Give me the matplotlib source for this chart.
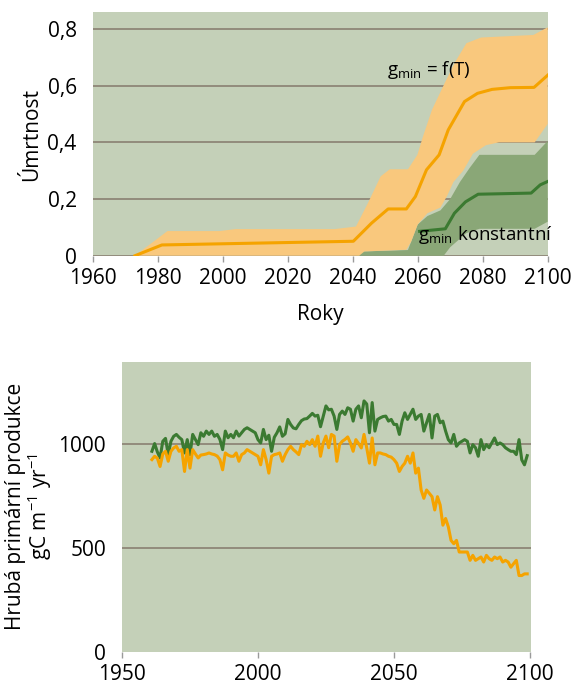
import numpy as np
import matplotlib
matplotlib.use("Agg")
import matplotlib.pyplot as plt
from matplotlib.ticker import FuncFormatter

plt.rcParams['font.family'] = ['Open Sans', 'DejaVu Sans']
plt.rcParams['mathtext.fontset'] = 'custom'
plt.rcParams['mathtext.rm'] = 'Open Sans'
plt.rcParams['mathtext.it'] = 'Open Sans:italic'
plt.rcParams['mathtext.bf'] = 'Open Sans:bold'

# --- horni graf: umrtnost ---
# gmin = f(T): stredni hodnota a pasmo
ft_years = [1973, 1981.3, 2040.2, 2045.8, 2050.9, 2056.5, 2059.3, 2062.7, 2066.6,
            2069.4, 2074.4, 2078.4, 2082.9, 2088.5, 2095.8, 2100]
ft_mean = [0, 0.038, 0.051, 0.115, 0.165, 0.165, 0.209, 0.303, 0.356,
           0.444, 0.544, 0.573, 0.587, 0.593, 0.594, 0.637]
ft_up_years = [1973, 1983, 1999, 2004, 2034.5, 2041, 2044.7, 2048.6, 2051.4, 2057,
               2059.9, 2061.6, 2064.4, 2068.3, 2071.6, 2075, 2079.5, 2095.6, 2100]
ft_up = [0, 0.087, 0.087, 0.094, 0.094, 0.103, 0.186, 0.28, 0.305, 0.305,
         0.356, 0.42, 0.515, 0.609, 0.685, 0.75, 0.77, 0.779, 0.806]
ft_lo_years = [1973, 2042, 2043.6, 2056.5, 2058, 2060, 2063, 2067, 2069, 2071,
               2074, 2077, 2081, 2085, 2096, 2100]
ft_lo = [0, 0, 0.015, 0.021, 0.05, 0.11, 0.15, 0.17, 0.21, 0.26,
         0.30, 0.36, 0.39, 0.40, 0.40, 0.465]

# gmin konstantni
k_years = [2060.6, 2068.5, 2071.3, 2074.7, 2078.6, 2094.9, 2097.7, 2100]
k_mean = [0.086, 0.095, 0.15, 0.19, 0.217, 0.221, 0.25, 0.262]
k_up_years = [2041, 2043, 2057, 2060, 2063, 2067, 2070, 2073, 2076, 2079, 2096, 2100]
k_up = [0, 0.015, 0.02, 0.11, 0.14, 0.16, 0.2, 0.26, 0.31, 0.356, 0.356, 0.405]
k_lo_years = [2041, 2068, 2070, 2075, 2079, 2096, 2100]
k_lo = [0, 0, 0.03, 0.08, 0.095, 0.095, 0.12]

# --- dolni graf: hruba primarni produkce ---
gpp_years = np.arange(1961, 2100)
gpp_konst = [
    963, 1000, 960, 931, 1011, 1025, 947, 1011, 1035, 1044,
    1030, 1019, 955, 1019, 947, 1044, 1019, 995, 1052, 1035,
    1060, 1044, 1060, 1035, 1044, 1020, 971, 1060, 1028, 1044,
    1028, 1060, 1036, 1052, 1068, 1076, 1068, 1060, 1052, 1019,
    1003, 1068, 1019, 1040, 963, 1030, 1052, 1080, 1035, 1047,
    1116, 1092, 1075, 1071, 1092, 1110, 1118, 1120, 1132, 1145,
    1132, 1136, 1081, 1132, 1181, 1162, 1165, 1132, 1068, 1140,
    1156, 1140, 1172, 1165, 1108, 1165, 1181, 1124, 1205, 1190,
    1052, 1197, 1060, 1116, 1124, 1130, 1132, 1108, 1116, 1092,
    1092, 1044, 1108, 1148, 1116, 1140, 1165, 1116, 1132, 1140,
    1060, 1100, 1140, 1027, 1132, 1140, 1100, 1108, 1060, 1019,
    1003, 1044, 987, 1003, 1011, 1019, 1011, 955, 995, 980,
    939, 1019, 971, 995, 980, 1003, 1027, 995, 1003, 995,
    980, 971, 963, 963, 947, 1019, 922, 898, 942]
gpp_ft = [
    923, 939, 930, 890, 950, 963, 915, 963, 979, 987,
    963, 971, 866, 971, 882, 971, 950, 931, 945, 947,
    950, 955, 950, 947, 940, 923, 874, 955, 945, 939,
    939, 955, 915, 947, 955, 971, 963, 955, 947, 939,
    898, 971, 923, 858, 939, 947, 950, 955, 915, 947,
    971, 987, 971, 960, 947, 995, 987, 1011, 995, 1019,
    987, 1036, 939, 1003, 1036, 980, 1044, 1036, 915, 995,
    1011, 1020, 1032, 1003, 963, 1019, 1000, 979, 1044, 979,
    906, 1027, 898, 955, 955, 950, 947, 939, 935, 923,
    906, 866, 890, 906, 939, 906, 955, 858, 882, 777,
    737, 777, 761, 745, 681, 745, 705, 608, 640, 600,
    535, 519, 535, 479, 479, 479, 479, 439, 463, 439,
    447, 455, 431, 463, 447, 439, 455, 447, 455, 431,
    439, 431, 406, 423, 439, 366, 366, 374, 374]

bg = '#c4d0b8'
grid_c = '#8a8072'
orange = '#f5a300'
orange_band = '#f9c87d'
green = '#3b7a31'
green_band = '#8aa777'
tick_c = '#9a9a9a'
fs = 15

fig = plt.figure(figsize=(5.73, 6.83), dpi=100)

def style(ax):
    ax.set_facecolor(bg)
    for s in ax.spines.values():
        s.set_visible(False)
    ax.tick_params(axis='y', length=0, pad=11.5, labelsize=fs)
    ax.tick_params(axis='x', length=4.5, width=1, color=tick_c, pad=4, labelsize=fs)
    ax.yaxis.grid(True, color=grid_c, lw=1.2)
    ax.set_axisbelow(True)

ax1 = fig.add_axes([0.1618, 0.6256, 0.7946, 0.3564])
style(ax1)
ax1.fill(np.r_[k_up_years, k_lo_years[::-1]], np.r_[k_up, k_lo[::-1]],
         color=green_band, lw=0, zorder=2)
ax1.fill(np.r_[ft_up_years, ft_lo_years[::-1]], np.r_[ft_up, ft_lo[::-1]],
         color=orange_band, lw=0, zorder=3)
ax1.plot(ft_years, ft_mean, color=orange, lw=2.2, zorder=4)
ax1.plot(k_years, k_mean, color=green, lw=2.2, zorder=4)
ax1.set_xlim(1960, 2100.1)
ax1.set_ylim(0, 0.859)
ax1.set_xticks(range(1960, 2101, 20))
ax1.set_yticks([0, 0.2, 0.4, 0.6, 0.8])
ax1.yaxis.set_major_formatter(FuncFormatter(lambda v, p: '0' if v == 0 else f'{v:.1f}'.replace('.', ',')))
ax1.set_ylabel('Úmrtnost', fontsize=fs, labelpad=4)
ax1.set_xlabel('Roky', fontsize=fs, labelpad=11)
ax1.text(2050.5, 0.655, r'g$_{\mathrm{min}}$ = f(T)', fontsize=13.5, va='center', ha='left', zorder=5)
ax1.text(2060, 0.072, r'g$_{\mathrm{min}}$ konstantní', fontsize=13.5, va='center', ha='left', zorder=5)

ax2 = fig.add_axes([0.2129, 0.0458, 0.7138, 0.4242])
style(ax2)
ax2.plot(gpp_years, gpp_konst, color=green, lw=2.2, zorder=3)
ax2.plot(gpp_years, gpp_ft, color=orange, lw=2.2, zorder=3)
ax2.set_xlim(1950, 2100.4)
ax2.set_ylim(0, 1392)
ax2.set_xticks([1950, 2000, 2050, 2100])
ax2.set_yticks([0, 500, 1000])
ax2.get_ygridlines()[0].set_visible(False)
ax2.set_ylabel('Hrubá primární produkce\ngC m$^{-1}$ yr$^{-1}$', fontsize=fs,
               labelpad=3, linespacing=1.0)

fig.savefig('out.png', dpi=100)
